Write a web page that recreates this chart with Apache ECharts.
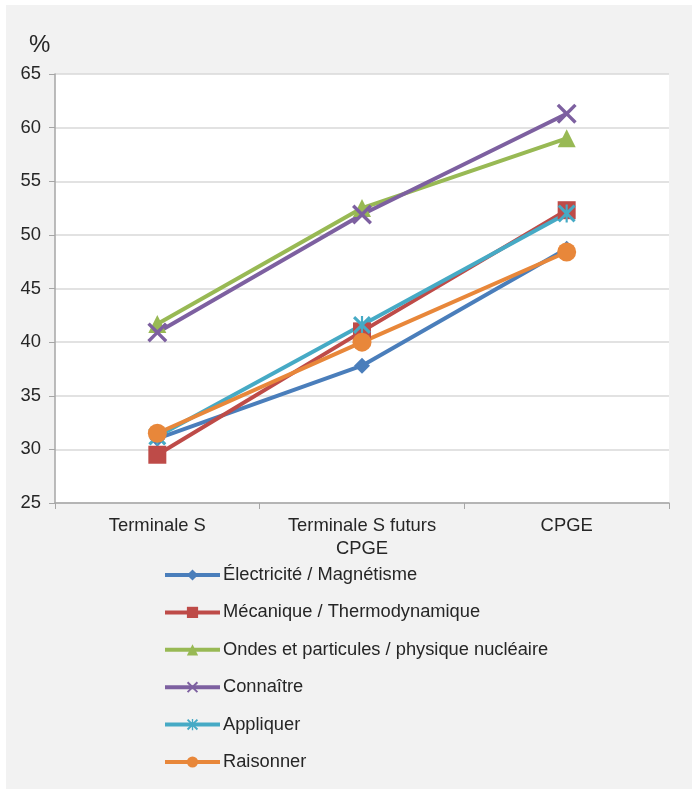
<!DOCTYPE html>
<html><head><meta charset="utf-8">
<script src="https://cdn.jsdelivr.net/npm/echarts@6/dist/echarts.min.js"></script>
<style>html,body{margin:0;padding:0;background:#fff}#c{width:698px;height:791px}</style>
</head><body><div id="c"></div>
<script>
var categories = ['Terminale S', 'Terminale S futurs\nCPGE', 'CPGE'];
var yTicks = {min: 25, max: 65, interval: 5};
var seriesNames = ['Électricité / Magnétisme', 'Mécanique / Thermodynamique', 'Ondes et particules / physique nucléaire', 'Connaître', 'Appliquer', 'Raisonner'];
var electricite = [31.0, 37.8, 48.7];
var mecanique = [29.5, 41.0, 52.3];
var ondes = [41.7, 52.5, 59.0];
var connaitre = [40.9, 51.9, 61.3];
var appliquer = [31.2, 41.6, 52.0];
var raisonner = [31.5, 40.0, 48.4];

var values = [electricite, mecanique, ondes, connaitre, appliquer, raisonner];
var colors = ['#4A7EBB', '#BE4B48', '#98B954', '#7D60A0', '#46AAC5', '#E8873A'];
var xPath = 'path://M0,1.2 L1.2,0 L5,3.8 L8.8,0 L10,1.2 L6.2,5 L10,8.8 L8.8,10 L5,6.2 L1.2,10 L0,8.8 L3.8,5 Z';
var starPath = 'path://M0,1.2 L1.2,0 L5,3.8 L8.8,0 L10,1.2 L6.2,5 L10,8.8 L8.8,10 L5,6.2 L1.2,10 L0,8.8 L3.8,5 Z M4.4,0 L5.6,0 L5.6,10 L4.4,10 Z';
var symbols = ['diamond', 'rect', 'triangle', xPath, starPath, 'circle'];
var sizes = [16, 18, 18, 20, 18, 19];

var font = 'Liberation Sans, Arial, sans-serif';
var chart = echarts.init(document.getElementById('c'));
chart.setOption({
  animation: false,
  textStyle: {fontFamily: font},
  graphic: [
    {type: 'rect', z: -10, shape: {x: 6, y: 5, width: 686, height: 784}, style: {fill: '#f2f2f2'}},
    {type: 'text', left: 29, top: 33, style: {text: '%', font: '24px ' + font, fill: '#262626'}}
  ],
  grid: {left: 55, right: 29, top: 74, bottom: 288, show: true, backgroundColor: '#fff', borderWidth: 0},
  legend: {
    orient: 'vertical', left: 158, top: 561,
    itemWidth: 55, itemHeight: 14, itemGap: 19.4,
    lineStyle: {width: 4},
    textStyle: {fontSize: 18.3, lineHeight: 18, color: '#262626', fontFamily: font, padding: [0, 0, 0, -2]},
    data: seriesNames
  },
  xAxis: {
    type: 'category', data: categories, boundaryGap: true,
    axisLine: {lineStyle: {color: '#a6a6a6', width: 1.5}},
    axisTick: {show: true, length: 6, lineStyle: {color: '#a6a6a6'}},
    axisLabel: {fontSize: 18.4, color: '#262626', margin: 11, lineHeight: 23, fontFamily: font}
  },
  yAxis: {
    type: 'value', min: yTicks.min, max: yTicks.max, interval: yTicks.interval,
    axisLine: {show: true, lineStyle: {color: '#a6a6a6', width: 1.5}},
    axisTick: {show: true, length: 6, lineStyle: {color: '#a6a6a6'}},
    splitLine: {lineStyle: {color: '#d9d9d9', width: 1.5}},
    axisLabel: {fontSize: 18.4, color: '#262626', margin: 14, fontFamily: font}
  },
  series: seriesNames.map(function (n, i) {
    return {
      name: n, type: 'line', data: values[i],
      symbol: symbols[i], symbolSize: sizes[i], showAllSymbol: true,
      lineStyle: {color: colors[i], width: 4},
      itemStyle: {color: colors[i]},
      emphasis: {disabled: true}
    };
  })
});
</script></body></html>
